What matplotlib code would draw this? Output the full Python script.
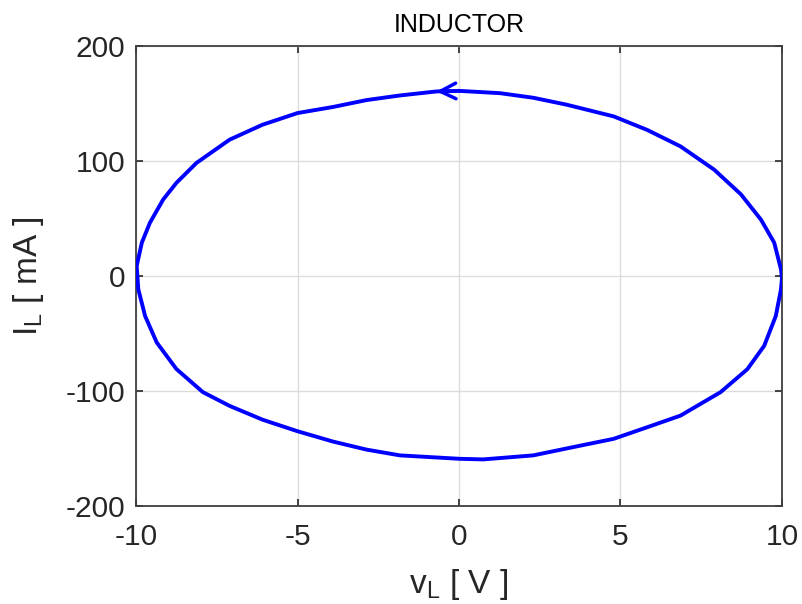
import numpy as np
import matplotlib
matplotlib.use('Agg')
import matplotlib.pyplot as plt

plt.rcParams['font.family'] = ['Liberation Sans', 'DejaVu Sans']
plt.rcParams['mathtext.default'] = 'regular'
plt.rcParams['axes.unicode_minus'] = False

# points, traced counterclockwise
# (upper half right->left, then lower half left->right)
v_L = [10.0, 9.97, 9.76, 9.35, 8.73, 7.9, 6.86, 5.83, 4.79, 3.33, 2.3, 1.27,
       0.0, -0.7, -1.83, -2.86, -3.9, -5.0, -6.08, -7.1, -8.13, -8.75, -9.16,
       -9.57, -9.82, -9.98,
       -9.93, -9.72, -9.36, -8.75, -7.93, -7.1, -6.08, -5.0, -3.9, -2.86, -1.83,
       0.03, 0.75, 2.3, 3.33, 4.79, 5.83, 6.86, 8.1, 8.93, 9.45, 9.81, 9.97, 10.0]
i_L = [-2, 5.8, 29, 49, 71, 92.5, 112.7, 127, 138.8, 149, 155, 159,
       161, 160.5, 157, 153, 147, 141.7, 131.6, 118.6, 98.3, 81, 66.5,
       46.3, 29, 8.7,
       -11.5, -34.7, -57.8, -80.9, -101, -113, -125, -135, -144, -151, -156,
       -159, -159.5, -156, -150, -141.6, -131.5, -121.4, -101, -81, -60.7, -34.7, -11.5, -2]
arrow_at = 12  # arrow drawn from this point to the next one

x_ticks = [-10, -5, 0, 5, 10]
y_ticks = [-200, -100, 0, 100, 200]

fig = plt.figure(figsize=(8.03, 6.04), dpi=100)
ax = fig.add_axes([0.1694, 0.1623, 0.8044, 0.7615])

ax.plot(v_L, i_L, color='#0000ff', lw=2.8, solid_joinstyle='round',
        solid_capstyle='round', zorder=3)
ax.annotate('', xy=(v_L[arrow_at + 1], i_L[arrow_at + 1]),
            xytext=(v_L[arrow_at], i_L[arrow_at]),
            arrowprops=dict(arrowstyle='->', color='#0000ff', lw=2.5,
                            mutation_scale=28, shrinkA=0, shrinkB=0),
            zorder=4)

ax.set_xlim(-10, 10)
ax.set_ylim(-200, 200)
ax.set_xticks(x_ticks)
ax.set_yticks(y_ticks)
ax.grid(True, color='#dcdcdc', lw=1.0)
ax.set_axisbelow(True)
ax.tick_params(direction='in', length=5, width=1.2, top=True, right=True,
               labelsize=21.5, colors='#262626')
ax.tick_params(axis='x', pad=12)
ax.tick_params(axis='y', pad=8)
for s in ax.spines.values():
    s.set_color('#404040')
    s.set_linewidth(1.3)

ax.set_title('INDUCTOR', fontsize=18, pad=10)
ax.set_xlabel(r'$v_L$ [ V ]', fontsize=24, color='#262626', labelpad=12)
ax.set_ylabel(r'$I_L$ [ mA ]', fontsize=24, color='#262626', labelpad=14)

fig.savefig('out.png', dpi=100)
